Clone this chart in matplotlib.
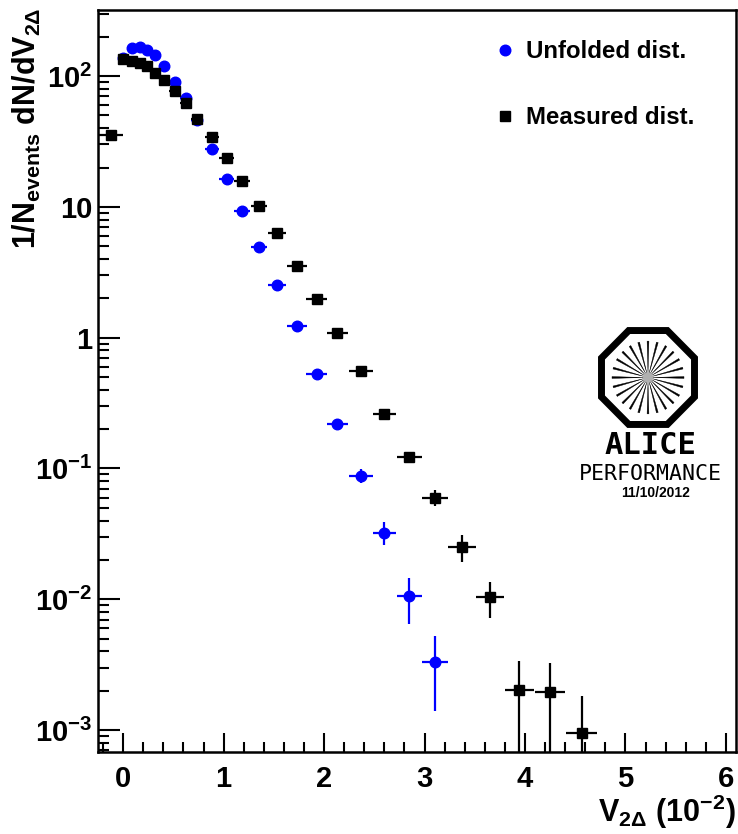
import numpy as np
import matplotlib
matplotlib.use("Agg")
import matplotlib.pyplot as plt
from matplotlib.lines import Line2D
from matplotlib.patches import Polygon, Circle
from matplotlib.ticker import MultipleLocator, FuncFormatter, LogLocator

plt.rcParams['font.family'] = ['Liberation Sans', 'DejaVu Sans']
plt.rcParams['font.weight'] = 'bold'
plt.rcParams['mathtext.fontset'] = 'custom'
plt.rcParams['mathtext.rm'] = 'Liberation Sans:bold'
plt.rcParams['mathtext.it'] = 'Liberation Sans:bold'
plt.rcParams['mathtext.bf'] = 'Liberation Sans:bold'

# measured distribution (black squares)
meas_x = [-0.125, 0.0, 0.084, 0.166, 0.239, 0.316, 0.405, 0.515, 0.625, 0.737,
          0.880, 1.030, 1.185, 1.352, 1.534, 1.727, 1.926, 2.133, 2.368, 2.600,
          2.846, 3.108, 3.376, 3.652, 3.944, 4.250, 4.566]
meas_xerr = [0.125, 0.04, 0.04, 0.04, 0.04, 0.04, 0.045, 0.055, 0.055, 0.06,
             0.07, 0.075, 0.078, 0.083, 0.092, 0.10, 0.103, 0.105, 0.116, 0.116,
             0.125, 0.13, 0.138, 0.136, 0.145, 0.15, 0.155]
meas_y = [35.5, 134, 130, 125, 119, 106, 93.2, 76.9, 62.6, 46.8,
          34.3, 23.8, 15.8, 10.2, 6.28, 3.52, 1.99, 1.09, 0.555, 0.261,
          0.123, 0.0597, 0.0250, 0.01045, 0.00202, 0.00194, 0.000944]
meas_yerr = [0.2, 0.4, 0.4, 0.4, 0.4, 0.35, 0.33, 0.3, 0.27, 0.23,
             0.2, 0.17, 0.14, 0.11, 0.085, 0.065, 0.048, 0.035, 0.025, 0.017,
             0.010, 0.0084, 0.0058, 0.0032, 0.00134, 0.00131, 0.00088]

# unfolded distribution (blue circles)
unf_x = [0.0, 0.084, 0.166, 0.239, 0.316, 0.405, 0.515, 0.625, 0.737, 0.880,
         1.030, 1.185, 1.352, 1.534, 1.727, 1.926, 2.133, 2.368, 2.600, 2.846,
         3.108]
unf_xerr = [0.04, 0.04, 0.04, 0.04, 0.04, 0.045, 0.055, 0.055, 0.06, 0.07,
            0.075, 0.078, 0.083, 0.092, 0.10, 0.103, 0.105, 0.116, 0.116, 0.125,
            0.13]
unf_y = [138, 163.5, 166, 158, 145, 119, 90, 68, 46, 27.6,
         16.3, 9.24, 4.91, 2.54, 1.22, 0.532, 0.219, 0.0883, 0.0323, 0.01057,
         0.0033]
unf_yerr = [0.6, 0.6, 0.6, 0.6, 0.55, 0.5, 0.45, 0.4, 0.33, 0.25,
            0.2, 0.15, 0.11, 0.08, 0.055, 0.037, 0.018, 0.0106, 0.0065, 0.0041,
            0.0019]

labels = ["Unfolded dist.", "Measured dist."]


def ylab(v, pos):
    e = int(round(np.log10(v)))
    if e == 0:
        return "1"
    if e == 1:
        return "10"
    return r"$10^{%d}$" % e


fig = plt.figure(figsize=(7.38, 8.34), dpi=100)
ax = fig.add_axes([0.1328, 0.0983, 0.8645, 0.8897])

ax.errorbar(unf_x, unf_y, xerr=unf_xerr, yerr=unf_yerr, fmt='o', color='#0000ff',
            ms=7.6, elinewidth=1.6, capsize=0, zorder=2)
ax.errorbar(meas_x, meas_y, xerr=meas_xerr, yerr=meas_yerr, fmt='s', color='black',
            ms=7.6, elinewidth=1.6, capsize=0, zorder=3)

ax.set_yscale('log')
ax.set_xlim(-0.25, 6.1)
ax.set_ylim(6.8e-4, 320)

ax.xaxis.set_major_locator(MultipleLocator(1))
ax.xaxis.set_minor_locator(MultipleLocator(0.2))
ax.yaxis.set_major_locator(LogLocator(base=10, numticks=20))
ax.yaxis.set_major_formatter(FuncFormatter(ylab))

for s in ax.spines.values():
    s.set_linewidth(1.8)
ax.tick_params(which='both', direction='in', width=1.5, top=False, right=False,
               labelsize=21)
ax.tick_params(axis='x', which='major', length=13.5, pad=9)
ax.tick_params(axis='x', which='minor', length=7.2)
ax.tick_params(axis='y', which='major', length=15.8, pad=4)
ax.tick_params(axis='y', which='minor', length=7.9)
for t in ax.get_xticklabels() + ax.get_yticklabels():
    t.set_fontweight('bold')

ax.set_xlabel(r"$V_{2\Delta}\ (10^{-2})$", fontsize=22, loc='right')
ax.xaxis.set_label_coords(1.0, -0.055)
ax.set_ylabel(r"$1/N_{events}\ dN/dV_{2\Delta}$", fontsize=22, loc='top')
ax.yaxis.set_label_coords(-0.086, 1.004)

handles = [Line2D([], [], marker='o', color='#0000ff', ls='none', ms=7.6),
           Line2D([], [], marker='s', color='black', ls='none', ms=7.6)]
ax.legend(handles, labels, loc='upper left', bbox_to_anchor=(0.623, 0.959),
          frameon=False, handlelength=0.8, handletextpad=0.45,
          labelspacing=1.77, borderpad=0, borderaxespad=0,
          prop={'weight': 'bold', 'size': 17.3})

# ALICE performance logo
lg = fig.add_axes([598 / 738, 1 - 428 / 834, 100 / 738, 101 / 834])
lg.set_xlim(-1, 1)
lg.set_ylim(-1, 1)
lg.axis('off')
ang = np.deg2rad(22.5 + 45 * np.arange(8))
r_oct = 0.93 / np.cos(np.deg2rad(22.5))
lg.add_patch(Polygon(np.c_[r_oct * np.cos(ang), r_oct * np.sin(ang)], closed=True,
                     fill=False, ec='black', lw=5.0, joinstyle='miter'))
for a in np.linspace(0, 2 * np.pi, 24, endpoint=False):
    da = 0.025
    pts = [[0.08 * np.cos(a), 0.08 * np.sin(a)],
           [0.72 * np.cos(a - da), 0.72 * np.sin(a - da)],
           [0.72 * np.cos(a + da), 0.72 * np.sin(a + da)]]
    lg.add_patch(Polygon(pts, closed=True, fc='black', ec='black', lw=0.3))
lg.add_patch(Circle((0, 0), 0.1, fc='#b0b0b0', ec='none', zorder=5))

fig.text(650 / 738, 1 - 446 / 834, "ALICE", ha='center', va='center',
         family='DejaVu Sans Mono', fontsize=22, fontweight='bold')
fig.text(650 / 738, 1 - 474 / 834, "PERFORMANCE", ha='center', va='center',
         family='DejaVu Sans Mono', fontsize=15.5, fontweight='normal')
fig.text(656 / 738, 1 - 493 / 834, "11/10/2012", ha='center', va='center',
         family='Liberation Sans', fontsize=10, fontweight='bold')

fig.savefig('out.png', dpi=100)
